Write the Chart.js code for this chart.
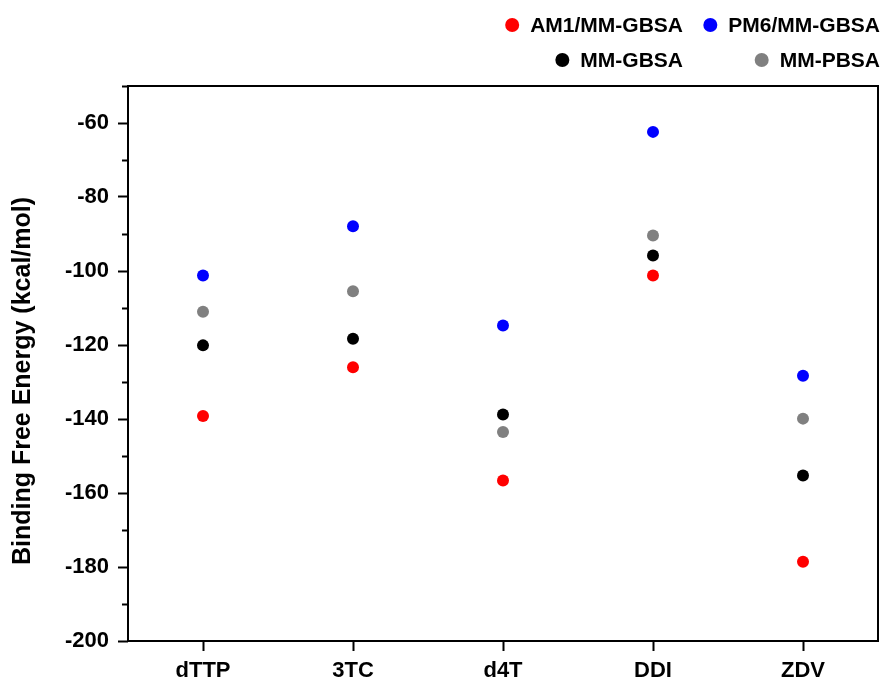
<!DOCTYPE html>
<html>
<head>
<meta charset="utf-8">
<script src="https://cdn.jsdelivr.net/npm/chart.js@4.4.1/dist/chart.umd.min.js"></script>
<style>
  html, body { margin: 0; padding: 0; background: #ffffff; }
  canvas { display: block; }
</style>
</head>
<body>
<canvas id="chart" width="884" height="682"></canvas>
<script>
// Binding free energies (kcal/mol) per ligand and method
const categories = ['dTTP', '3TC', 'd4T', 'DDI', 'ZDV'];
const am1MmGbsa = [-139.2, -126.0, -156.6, -101.2, -178.6];
const pm6MmGbsa = [-101.2, -87.9, -114.7, -62.4, -128.3];
const mmGbsa    = [-120.1, -118.3, -138.8, -95.8, -155.3];
const mmPbsa    = [-111.0, -105.5, -143.5, -90.4, -139.9];

const seriesNames  = ['AM1/MM-GBSA', 'PM6/MM-GBSA', 'MM-GBSA', 'MM-PBSA'];
const seriesValues = [am1MmGbsa, pm6MmGbsa, mmGbsa, mmPbsa];
const seriesColors = ['#ff0000', '#0000ff', '#000000', '#808080'];

const yMin = -200, yMax = -50, yStep = 10, yLabelStep = 20;
const yTitle = 'Binding Free Energy (kcal/mol)';

const FONT = '"Liberation Sans", Arial, Helvetica, sans-serif';

// Frame around the plot area
const framePlugin = {
  id: 'frame',
  afterDraw(chart) {
    const { ctx, chartArea: a } = chart;
    ctx.save();
    ctx.strokeStyle = '#000';
    ctx.lineWidth = 2;
    ctx.strokeRect(a.left, a.top, a.right - a.left, a.bottom - a.top);
    ctx.restore();
  }
};

// Vertical axis title
const yTitlePlugin = {
  id: 'yTitle',
  afterDraw(chart) {
    const { ctx } = chart;
    ctx.save();
    ctx.translate(23, 381);
    ctx.rotate(-Math.PI / 2);
    ctx.font = 'bold 25px ' + FONT;
    ctx.fillStyle = '#000';
    ctx.textAlign = 'center';
    ctx.textBaseline = 'middle';
    ctx.fillText(yTitle, 0, 0);
    ctx.restore();
  }
};

// Two-column legend, each column right-aligned
const legendPlugin = {
  id: 'gridLegend',
  afterDraw(chart) {
    const { ctx } = chart;
    const colRight = [683, 880];
    const rowY = [25, 60];
    ctx.save();
    ctx.font = 'bold 21px ' + FONT;
    ctx.textAlign = 'right';
    ctx.textBaseline = 'middle';
    chart.data.datasets.forEach((ds, i) => {
      const col = i % 2, row = Math.floor(i / 2);
      const x = colRight[col], y = rowY[row];
      const w = ctx.measureText(ds.label).width;
      ctx.fillStyle = '#000';
      ctx.fillText(ds.label, x, y + 1);
      ctx.fillStyle = ds.backgroundColor;
      ctx.beginPath();
      ctx.arc(x - w - 18, y, 7, 0, Math.PI * 2);
      ctx.fill();
    });
    ctx.restore();
  }
};

const isMajor = v => Math.abs(v % yLabelStep) < 1e-6;

new Chart(document.getElementById('chart'), {
  type: 'line',
  data: {
    labels: categories,
    datasets: seriesNames.map((name, i) => ({
      label: name,
      data: seriesValues[i],
      showLine: false,
      backgroundColor: seriesColors[i],
      borderColor: seriesColors[i],
      pointRadius: 6,
      pointHoverRadius: 6,
      pointBorderWidth: 0,
      pointStyle: 'circle'
    }))
  },
  options: {
    responsive: false,
    animation: false,
    events: [],
    layout: { padding: { top: 86, right: 4, bottom: 0, left: 0 } },
    plugins: {
      legend: { display: false },
      tooltip: { enabled: false },
      title: { display: false }
    },
    scales: {
      x: {
        type: 'category',
        offset: true,
        afterFit(scale) { scale.height = 41; },
        grid: {
          drawOnChartArea: false,
          drawTicks: true,
          tickLength: 10,
          tickWidth: 2,
          tickColor: '#000',
          offset: false
        },
        border: { display: false },
        ticks: {
          color: '#000',
          padding: 7,
          maxRotation: 0,
          font: { family: FONT, size: 22, weight: 'bold' }
        }
      },
      y: {
        type: 'linear',
        min: yMin,
        max: yMax,
        afterFit(scale) { scale.width = 128; },
        grid: {
          drawOnChartArea: false,
          drawTicks: true,
          tickLength: 10,
          tickWidth: 2,
          tickColor: '#000',
          tickBorderDash: ctx => (ctx.tick && !isMajor(ctx.tick.value)) ? [6, 20] : [],
          tickBorderDashOffset: ctx => (ctx.tick && !isMajor(ctx.tick.value)) ? 22 : 0
        },
        border: { display: false },
        ticks: {
          stepSize: yStep,
          maxTicksLimit: 40,
          autoSkip: false,
          color: '#000',
          padding: 9,
          font: { family: FONT, size: 22, weight: 'bold' },
          callback: v => isMajor(v) ? String(v) : ''
        }
      }
    }
  },
  plugins: [framePlugin, yTitlePlugin, legendPlugin]
});
</script>
</body>
</html>
